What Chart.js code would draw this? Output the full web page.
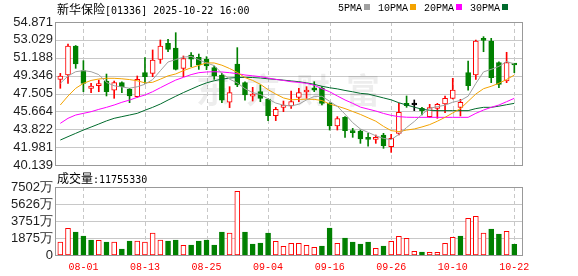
<!DOCTYPE html>
<html>
<head>
<meta charset="utf-8">
<script src="https://cdn.jsdelivr.net/npm/chart.js@4.4.1/dist/chart.umd.min.js"></script>
<style>
  body { margin: 0; background: #fff; width: 578px; height: 276px; position: relative; overflow: hidden; font-family: "Noto Sans CJK SC", sans-serif; }
  canvas { position: absolute; left: 0; top: 0; }
  .txt { position: absolute; font-size: 12px; line-height: 14px; color: #000; white-space: nowrap; }
  .num { font-family: "DejaVu Sans Mono", monospace; font-size: 10px; }
  #legend { position: absolute; top: 3px; left: 338px; font: 10px "Liberation Mono", monospace; line-height: 12px; white-space: nowrap; }
  #legend i { display: inline-block; width: 6px; height: 6px; margin: 0 8px 1px 2px; }
</style>
</head>
<body>
<canvas id="price" width="578" height="276"></canvas>
<canvas id="vol" width="578" height="276"></canvas>
<div class="txt" style="left:57px;top:2px">新华保险<span class="num">[01336] 2025-10-22 16:00</span></div>
<div id="legend"></div>
<div class="txt" style="left:57px;top:171px">成交量<span class="num">:11755330</span></div>
<script>
const dates = ['07-29','07-30','07-31','08-01','08-04','08-05','08-06','08-07','08-08','08-11',
  '08-12','08-13','08-14','08-15','08-18','08-19','08-20','08-21','08-22','08-25',
  '08-26','08-27','08-28','08-29','09-01','09-02','09-03','09-04','09-05','09-08',
  '09-09','09-10','09-11','09-12','09-15','09-16','09-17','09-18','09-19','09-22',
  '09-23','09-24','09-25','09-26','09-29','09-30','10-02','10-03','10-06','10-08',
  '10-09','10-10','10-13','10-14','10-15','10-16','10-17','10-20','10-21','10-22'];
const xLabels = ['08-01','08-13','08-25','09-04','09-16','09-26','10-10','10-22'];

const opens = [48.96,49.41,52.40,49.86,48.04,48.31,48.79,47.86,48.62,47.93,
  47.18,49.65,49.58,51.02,52.67,52.19,50.10,51.47,51.23,51.02,
  50.17,49.41,46.60,50.54,48.62,47.23,47.69,46.94,45.22,46.08,
  46.22,47.11,47.66,48.10,48.04,46.49,44.16,45.05,43.64,43.64,
  42.89,42.78,43.23,42.03,43.40,46.49,46.32,45.98,45.12,45.97,
  46.42,47.01,46.08,49.65,49.41,53.08,52.91,50.68,48.79,50.54];
const highs = [49.58,52.60,52.45,50.89,48.55,48.89,49.51,48.79,48.72,48.04,
  49.31,51.20,51.99,53.02,53.09,53.77,51.37,51.71,51.57,51.30,
  50.34,49.58,48.21,52.23,48.72,48.14,48.38,46.98,46.08,46.73,
  47.76,48.04,48.21,48.72,48.21,46.56,45.12,45.12,43.91,43.74,
  43.40,43.23,43.40,43.30,46.49,47.25,46.84,46.08,46.39,46.49,
  47.25,49.07,46.90,50.85,53.02,53.36,53.19,50.78,51.75,50.61];
const lows = [48.04,48.55,50.10,47.69,47.59,47.69,47.25,47.01,47.59,46.56,
  47.11,48.55,49.24,50.61,51.81,49.93,49.24,50.27,49.99,49.96,
  48.96,46.56,46.05,48.21,46.83,46.73,46.66,44.71,44.71,45.63,
  45.97,46.66,47.01,47.69,46.32,43.74,43.74,42.99,42.99,42.37,
  42.09,42.37,41.86,41.44,43.23,46.08,45.74,45.29,45.05,44.95,
  45.53,46.94,45.19,47.86,48.96,51.81,48.62,48.11,48.62,49.65];
const closes = [49.31,52.40,50.54,48.55,48.28,48.48,47.69,48.62,48.21,47.25,
  48.96,49.24,50.96,52.40,52.05,49.99,51.10,51.05,50.44,50.34,
  49.31,46.83,47.59,48.38,47.35,47.28,47.01,45.22,45.87,46.32,
  46.66,47.59,47.72,47.86,46.49,44.16,44.91,43.68,43.47,42.82,
  42.78,42.89,42.13,42.89,45.56,46.25,46.32,45.74,46.05,46.39,
  47.01,47.86,46.59,48.31,52.91,52.98,49.14,48.45,50.68,50.44];

const ma5 = [48.55,49.31,49.75,49.86,49.75,49.45,48.65,48.30,48.18,48.05,
  48.20,48.46,48.94,49.85,50.75,51.00,51.25,51.33,50.98,50.65,
  50.38,49.58,48.98,48.60,48.00,47.60,47.40,46.95,46.52,46.30,
  46.22,46.40,46.85,47.20,47.22,46.70,46.18,45.38,44.50,43.85,
  43.50,43.15,42.88,42.75,43.30,44.00,44.62,45.35,45.98,46.15,
  46.30,46.61,46.78,47.23,48.54,49.73,49.99,50.30,50.80,50.55];
const ma10 = [46.32,47.25,48.04,48.55,48.85,49.00,49.07,49.07,49.02,48.94,
  48.82,48.60,48.66,48.98,49.32,49.52,49.86,50.15,50.40,50.66,
  50.65,50.42,50.08,49.68,49.15,48.85,48.45,47.90,47.45,47.05,
  46.85,46.90,46.92,46.90,46.78,46.42,46.20,45.95,45.65,45.35,
  45.00,44.65,44.12,43.68,43.58,43.74,43.85,44.06,44.30,44.65,
  45.05,45.50,45.95,46.70,47.45,48.00,48.25,48.56,48.95,49.40];
const ma20 = [44.43,44.95,45.29,45.46,45.63,45.87,46.08,46.32,46.60,46.83,
  47.11,47.35,47.69,48.10,48.50,48.89,49.17,49.45,49.65,49.72,
  49.75,49.72,49.65,49.55,49.41,49.33,49.24,49.10,48.96,48.85,
  48.72,48.65,48.55,48.35,48.00,47.69,47.25,46.84,46.49,46.10,
  45.90,45.70,45.45,45.25,45.12,45.06,45.05,45.05,45.05,45.05,
  45.05,45.05,45.05,45.05,45.46,45.80,46.08,46.32,46.66,47.01];
const ma30 = [42.71,43.06,43.40,43.74,44.05,44.36,44.68,44.95,45.12,45.29,
  45.46,45.78,46.08,46.42,46.83,47.22,47.60,47.95,48.30,48.60,
  48.82,48.98,49.10,49.15,49.17,49.15,49.10,49.02,48.96,48.88,
  48.80,48.72,48.60,48.45,48.25,48.10,47.98,47.82,47.68,47.52,
  47.45,47.25,47.05,46.85,46.55,46.32,46.10,45.88,45.78,45.74,
  45.74,45.74,45.74,45.74,45.95,46.08,46.08,46.20,46.35,46.49];

// 成交量, 单位: 万
const volumes = [1434,2941,2537,2096,1654,1618,1434,1434,662,1544,
  1544,1434,2426,1654,1544,1654,1066,1103,1544,1654,
  1103,2537,2426,7022,2537,1213,1324,2426,1507,956,
  1287,1287,1066,846,993,2978,1287,1875,1434,1213,
  1434,735,993,1507,2059,1838,404,331,294,294,
  1287,1949,2096,4044,4265,2426,2868,2316,2610,1176];

const priceTicks = [40.139,41.981,43.822,45.664,47.505,49.346,51.188,53.029,54.871];
const volTicks = [0,1875,3751,5626,7502];

const RED = '#ff0000';
const GREEN = '#008000';
const maList = [
  { name: '5PMA', data: ma5, color: '#a0a0a0' },
  { name: '10PMA', data: ma10, color: '#f4a300' },
  { name: '20PMA', data: ma20, color: '#ff00ff' },
  { name: '30PMA', data: ma30, color: '#006b2d' }
];

document.getElementById('legend').innerHTML = maList
  .map(m => `${m.name}<i style="background:${m.color}"></i>`).join('');

const candleColor = i => closes[i] > opens[i] ? RED : (closes[i] < opens[i] ? GREEN : '#000');
const volUp = i => i === 0 ? closes[0] >= opens[0] : closes[i] >= closes[i - 1];
const labelIdx = xLabels.map(d => dates.indexOf(d));
const idx = dates.map((d, i) => i);

// grid lines (solid across, dashed down), plot border, optional watermark
// drawn with fillRect so each line is one crisp pixel
function makePanel(mark) {
  return {
    id: 'panel' + (mark ? 'Price' : 'Vol'),
    beforeDatasetsDraw(chart) {
      const { ctx, chartArea: a, scales } = chart;
      const L = Math.round(a.left), R = Math.round(a.right), T = Math.round(a.top), B = Math.round(a.bottom);
      ctx.save();
      ctx.fillStyle = '#c8c8c8';
      scales.y.ticks.forEach(t => {
        const y = Math.round(scales.y.getPixelForValue(t.value));
        ctx.fillRect(L, y, R - L, 1);
      });
      scales.x.ticks.forEach(t => {
        const x = Math.round(scales.x.getPixelForValue(t.value));
        for (let y = T; y < B; y += 7) ctx.fillRect(x, y, 1, Math.min(4, B - y));
      });
      if (mark) {
        ctx.font = 'bold 34px "Noto Sans CJK SC"';
        ctx.fillStyle = 'rgba(0,0,0,0.07)';
        ctx.textAlign = 'center';
        ctx.textBaseline = 'middle';
        ['东', '方', '财', '富'].forEach((c, k) => ctx.fillText(c, L + 157 + k * 50, T + 68));
      }
      ctx.restore();
    },
    afterDatasetsDraw(chart) {
      const { ctx, chartArea: a } = chart;
      const L = Math.round(a.left), R = Math.round(a.right), T = Math.round(a.top), B = Math.round(a.bottom);
      ctx.save();
      ctx.fillStyle = '#999999';
      ctx.fillRect(L - 1, T, R - L + 2, 1);
      ctx.fillRect(L - 1, B, R - L + 2, 1);
      ctx.fillRect(L - 1, T, 1, B - T + 1);
      ctx.fillRect(R, T, 1, B - T + 1);
      ctx.restore();
    }
  };
}

const xScale = (showLabels) => ({
  type: 'linear',
  offset: false,
  min: -0.56,
  max: 60,
  afterBuildTicks: s => { s.ticks = labelIdx.map(v => ({ value: v })); },
  afterFit: s => { s.height = showLabels ? 21 : 0; },
  ticks: {
    display: showLabels,
    autoSkip: false,
    maxRotation: 0,
    padding: 6,
    color: RED,
    font: { family: 'Liberation Mono', size: 10 },
    callback: v => dates[v]
  },
  grid: { display: false, drawTicks: false },
  border: { display: false }
});

const yTickFont = { family: 'Liberation Sans', size: 13 };

new Chart(document.getElementById('price'), {
  type: 'bar',
  data: {
    datasets: [
      ...maList.map(m => ({
        type: 'line',
        label: m.name,
        data: m.data.map((v, i) => ({ x: i, y: v })),
        borderColor: m.color,
        borderWidth: 1,
        pointRadius: 0,
        tension: 0,
        order: 0
      })),
      {
        label: 'body',
        data: idx.map(i => ({ x: i, y: [opens[i], closes[i]] })),
        backgroundColor: idx.map(i => closes[i] > opens[i] ? '#fff' : candleColor(i)),
        borderColor: idx.map(i => candleColor(i)),
        borderWidth: 1,
        borderSkipped: false,
        barThickness: 5,
        minBarLength: 2,
        grouped: false,
        order: 1
      },
      {
        label: 'wick',
        data: idx.map(i => ({ x: i, y: [lows[i], highs[i]] })),
        backgroundColor: idx.map(i => candleColor(i)),
        borderWidth: 0,
        barThickness: 1,
        grouped: false,
        order: 2
      }
    ]
  },
  options: {
    responsive: false,
    animation: false,
    devicePixelRatio: 1,
    layout: { padding: { top: 22, right: 56, bottom: 111, left: 0 } },
    plugins: { legend: { display: false }, tooltip: { enabled: false } },
    scales: {
      x: xScale(false),
      y: {
        min: 40.139,
        max: 54.871,
        afterBuildTicks: s => { s.ticks = priceTicks.map(v => ({ value: v })); },
        afterFit: s => { s.width = 56; },
        ticks: { autoSkip: false, padding: 3, color: '#1e1e1e', font: yTickFont, callback: v => v.toFixed(3) },
        grid: { display: false, drawTicks: false },
        border: { display: false }
      }
    }
  },
  plugins: [makePanel(true)]
});

new Chart(document.getElementById('vol'), {
  type: 'bar',
  data: {
    datasets: [{
      label: 'volume',
      data: volumes.map((v, i) => ({ x: i, y: v })),
      backgroundColor: idx.map(i => volUp(i) ? '#fff' : GREEN),
      borderColor: idx.map(i => volUp(i) ? RED : GREEN),
      borderWidth: 1,
      borderSkipped: false,
      barThickness: 5
    }]
  },
  options: {
    responsive: false,
    animation: false,
    devicePixelRatio: 1,
    layout: { padding: { top: 187, right: 56, bottom: 0, left: 0 } },
    plugins: { legend: { display: false }, tooltip: { enabled: false } },
    scales: {
      x: xScale(true),
      y: {
        min: 0,
        max: 7502,
        afterBuildTicks: s => { s.ticks = volTicks.map(v => ({ value: v })); },
        afterFit: s => { s.width = 56; },
        ticks: { autoSkip: false, padding: 3, color: '#1e1e1e', font: yTickFont, callback: v => v === 0 ? '0' : v + '万' },
        grid: { display: false, drawTicks: false },
        border: { display: false }
      }
    }
  },
  plugins: [makePanel(false)]
});
</script>
</body>
</html>
